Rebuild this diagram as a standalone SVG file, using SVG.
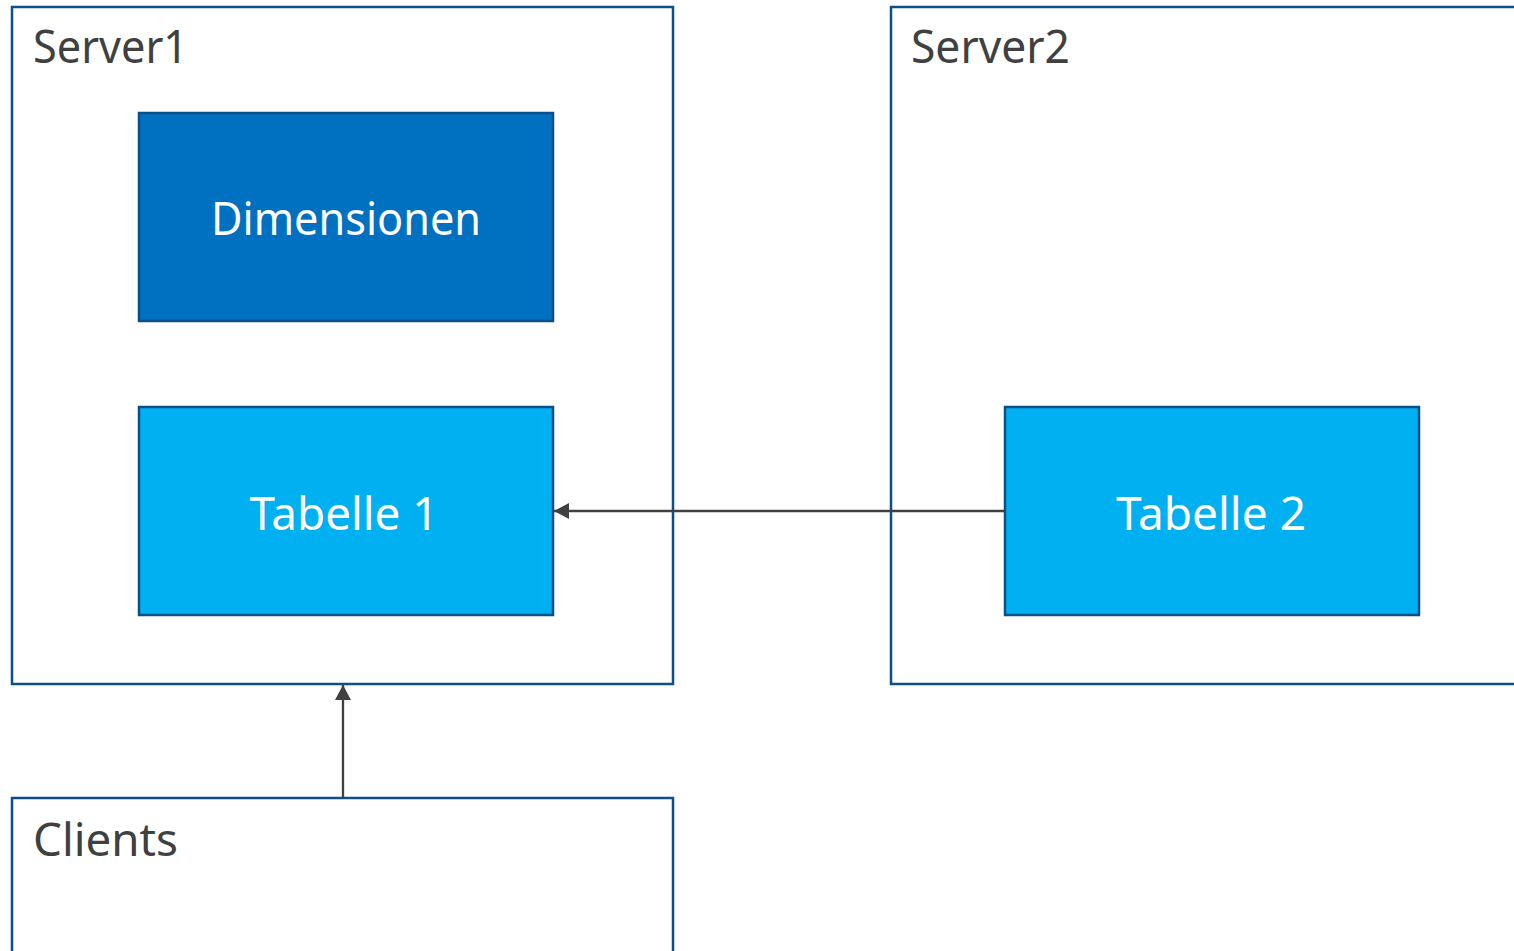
<svg xmlns="http://www.w3.org/2000/svg" width="1514" height="951" viewBox="0 0 1514 951">
<style>
.frame{fill:#ffffff;stroke:#0b4f8a;stroke-width:2.5}
.dim{fill:#0070c0;stroke:#0b4f8a;stroke-width:2.5}
.tab{fill:#00b0f0;stroke:#0b4f8a;stroke-width:2.5}
.lbl{font-family:"Noto Sans","DejaVu Sans",sans-serif;font-size:46px;fill:#404040}
.in{font-family:"Noto Sans","DejaVu Sans",sans-serif;font-size:46px;fill:#ffffff;text-anchor:middle}
.conn{stroke:#404040;stroke-width:2.3;fill:none}
</style>
<defs>
<marker id="arr" viewBox="0 0 15 16" refX="15" refY="8" markerWidth="15" markerHeight="16" markerUnits="userSpaceOnUse" orient="auto">
<path d="M0,0 L15,8 L0,16 z" fill="#404040"/>
</marker>
</defs>
<rect width="1514" height="951" fill="#ffffff"/>
<g id="server1">
<rect class="frame" x="12" y="7" width="661" height="677"/>
<text class="lbl" x="33" y="63" textLength="155" lengthAdjust="spacingAndGlyphs">Server1</text>
</g>
<g id="server2">
<rect class="frame" x="891" y="7" width="640" height="677"/>
<text class="lbl" x="911" y="63" textLength="159" lengthAdjust="spacingAndGlyphs">Server2</text>
</g>
<g id="clients">
<rect class="frame" x="12" y="798" width="661" height="170"/>
<text class="lbl" x="33" y="856" textLength="145" lengthAdjust="spacingAndGlyphs">Clients</text>
</g>
<g id="dimensionen">
<rect class="dim" x="139" y="113" width="414" height="208"/>
<text class="in" x="346" y="235" textLength="270" lengthAdjust="spacingAndGlyphs">Dimensionen</text>
</g>
<g id="tabelle1">
<rect class="tab" x="139" y="407" width="414" height="208"/>
<text class="in" x="344" y="530" textLength="189" lengthAdjust="spacingAndGlyphs">Tabelle 1</text>
</g>
<g id="tabelle2">
<rect class="tab" x="1005" y="407" width="414" height="208"/>
<text class="in" x="1211" y="530" textLength="190" lengthAdjust="spacingAndGlyphs">Tabelle 2</text>
</g>
<g id="connectors">
<line class="conn" x1="1005" y1="511" x2="554" y2="511" marker-end="url(#arr)"/>
<line class="conn" x1="343" y1="798" x2="343" y2="685" marker-end="url(#arr)"/>
</g>
</svg>
